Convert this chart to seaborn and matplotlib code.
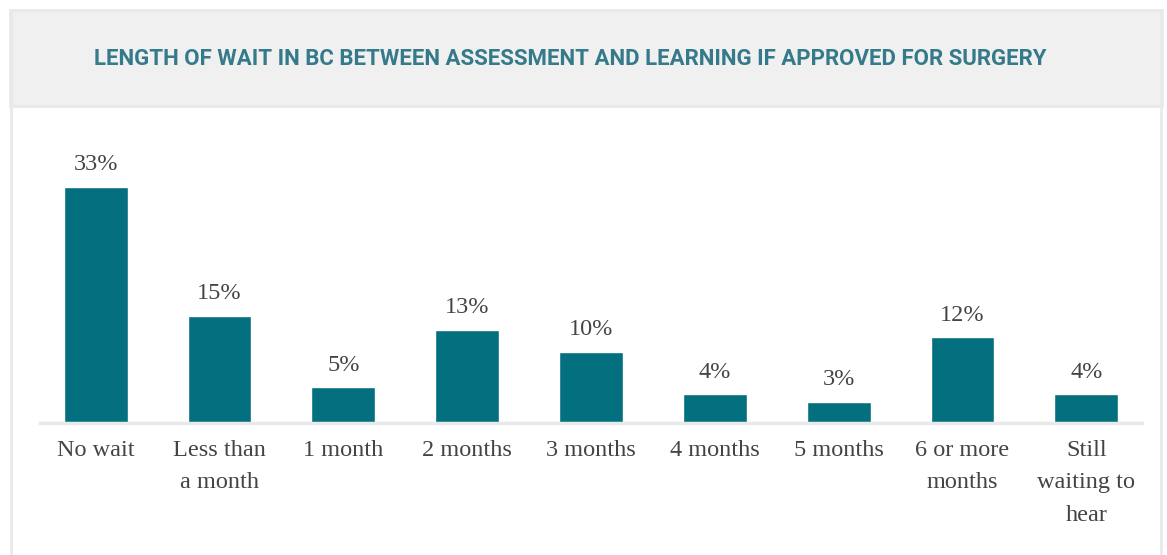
import matplotlib
matplotlib.use("Agg")
import matplotlib.pyplot as plt
import seaborn as sns
import pandas as pd
from matplotlib.patches import Rectangle
from matplotlib.lines import Line2D

# ── Datos ─────────────────────────────────────────────────────────────────────
categorias = ["No wait", "Less than\na month", "1 month", "2 months", "3 months",
              "4 months", "5 months", "6 or more\nmonths", "Still\nwaiting to\nhear"]
porcentajes = [33, 15, 5, 13, 10, 4, 3, 12, 4]
titulo = "LENGTH OF WAIT IN BC BETWEEN ASSESSMENT AND LEARNING IF APPROVED FOR SURGERY"

df = pd.DataFrame({"Categoria": categorias, "Pct": porcentajes})

# ── Estilo ────────────────────────────────────────────────────────────────────
sns.set_theme(style="white")
plt.rcParams["font.family"] = ["Liberation Serif", "DejaVu Serif"]

color_barra = "#04707f"
color_texto = "#444444"
color_borde = "#e9e9e9"

W, H = 1167, 555
fig = plt.figure(figsize=(W / 100, H / 100), dpi=100)
fig.patch.set_facecolor("white")

# banda del título + marco
fig.add_artist(Rectangle((10 / W, 1 - 106 / H), 1152 / W, 96 / H,
                         transform=fig.transFigure, facecolor="#f0f0f0",
                         edgecolor=color_borde, linewidth=2))
fig.add_artist(Line2D([11 / W, 11 / W], [0, 1 - 10 / H], transform=fig.transFigure,
                      color=color_borde, linewidth=2))
fig.add_artist(Line2D([1161 / W, 1161 / W], [0, 1 - 10 / H], transform=fig.transFigure,
                      color=color_borde, linewidth=2))
fig.text(570 / W, 1 - 59 / H, titulo, ha="center", va="center",
         family=["Roboto", "DejaVu Sans"], fontweight="bold", fontstretch="condensed",
         fontsize=16, color="#357a8a")

# ── Gráfico ───────────────────────────────────────────────────────────────────
base = 423
ax = fig.add_axes([40 / W, (H - base) / H, 1102 / W, 286 / H])
sns.barplot(data=df, x="Categoria", y="Pct", color=color_barra, width=0.516,
            saturation=1, ax=ax)
ax.set_xlim(-0.45, 8.45)
ax.set_ylim(0, 40)
ax.set_xlabel("")
ax.set_ylabel("")
ax.set_yticks([])
for s in ["top", "right", "left"]:
    ax.spines[s].set_visible(False)
ax.spines["bottom"].set_color(color_borde)
ax.spines["bottom"].set_linewidth(2.5)
ax.tick_params(axis="x", length=0, pad=12)
for lab in ax.get_xticklabels():
    lab.set_fontsize(17.5)
    lab.set_color(color_texto)
    lab.set_linespacing(1.72)
    lab.set_verticalalignment("top")

for i, v in enumerate(porcentajes):
    ax.annotate(f"{v}%", (i, v), xytext=(0, 12), textcoords="offset points",
                ha="center", va="baseline", fontsize=17.5, color=color_texto)

fig.savefig("out.png", dpi=100)
